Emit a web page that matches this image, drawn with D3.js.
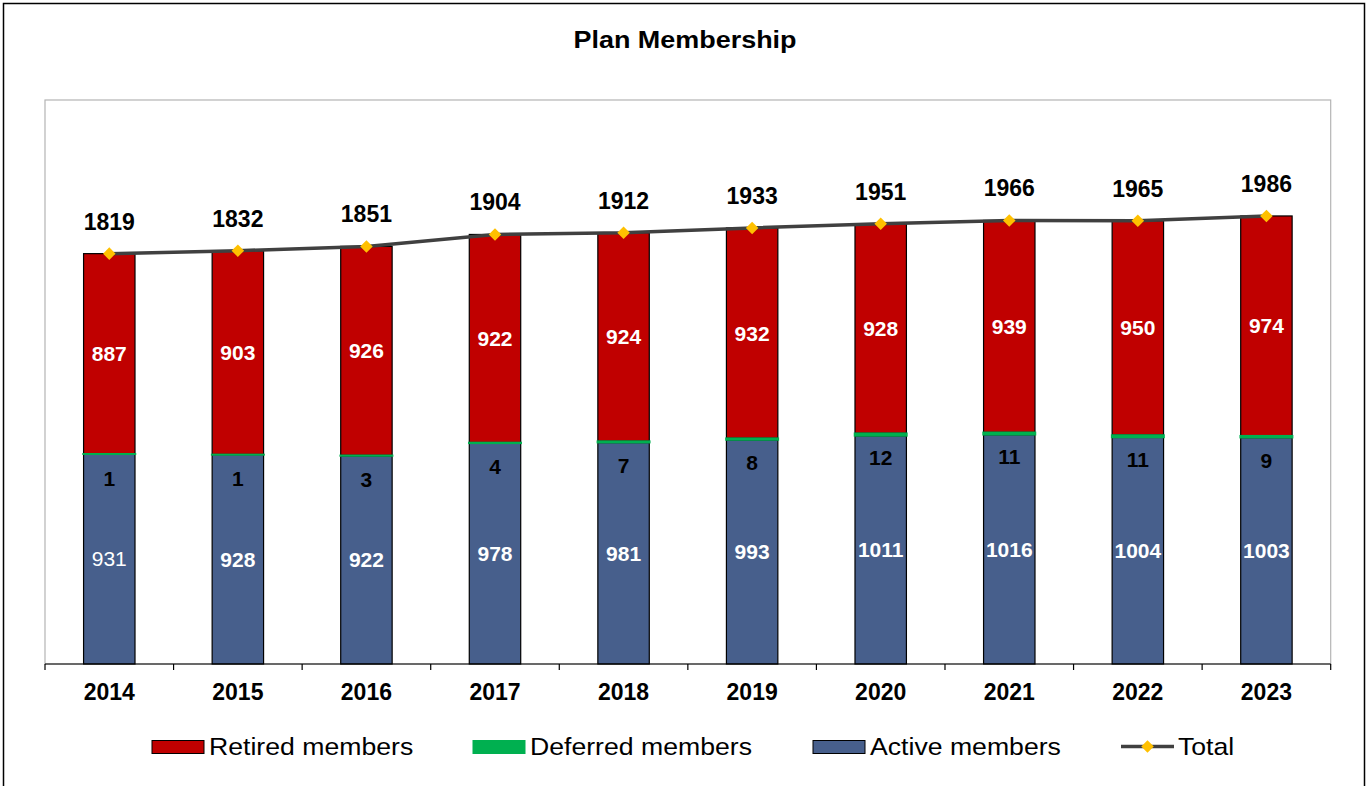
<!DOCTYPE html>
<html>
<head>
<meta charset="utf-8">
<script src="https://cdn.jsdelivr.net/npm/d3@7/dist/d3.min.js"></script>
<style>
  html, body { margin: 0; padding: 0; background: #fff; }
  svg { display: block; }
  text { font-family: "Liberation Sans", Arial, sans-serif; }
</style>
</head>
<body>
<svg id="chart" width="1367" height="786"></svg>
<script>
// Plan membership by year
const years    = ["2014","2015","2016","2017","2018","2019","2020","2021","2022","2023"];
const active   = [931, 928, 922, 978, 981, 993, 1011, 1016, 1004, 1003];
const deferred = [1, 1, 3, 4, 7, 8, 12, 11, 11, 9];
const retired  = [887, 903, 926, 922, 924, 932, 928, 939, 950, 974];
const totals   = [1819, 1832, 1851, 1904, 1912, 1933, 1951, 1966, 1965, 1986];
const yDomainMax = 2500;

const colors = { active: "#475f8c", deferred: "#00b050", retired: "#c00000", line: "#404040", marker: "#ffc000" };

const svg = d3.select("#chart");
const plot = { left: 45, top: 100, right: 1330.7, bottom: 664 };

// Outer chart frame
svg.append("rect").attr("x", 3.5).attr("y", 3.5).attr("width", 1361).attr("height", 800)
  .attr("fill", "#fff").attr("stroke", "#000").attr("stroke-width", 1.5);

// Plot area frame
svg.append("rect").attr("x", plot.left).attr("y", plot.top)
  .attr("width", plot.right - plot.left).attr("height", plot.bottom - plot.top)
  .attr("fill", "#fff").attr("stroke", "#b4b4b4").attr("stroke-width", 1.2);

// Title (slightly wide lettering)
svg.append("text").attr("transform", "translate(685,48) scale(1.1,1)").attr("text-anchor", "middle")
  .attr("font-size", 24.5).attr("font-weight", "bold").attr("fill", "#000")
  .text("Plan Membership");

const x = d3.scaleBand().domain(years).range([plot.left, plot.right])
  .paddingInner(0.6).paddingOuter(0.3);
const y = d3.scaleLinear().domain([0, yDomainMax]).range([plot.bottom, plot.top]);

const rows = years.map((yr, i) => ({
  year: yr, active: active[i], deferred: deferred[i], retired: retired[i], total: totals[i]
}));
const stack = d3.stack().keys(["active", "deferred", "retired"])(rows);

const g = svg.append("g");

// Active and retired segments
["active", "retired"].forEach(key => {
  const layer = stack.find(s => s.key === key);
  g.append("g").selectAll("rect").data(layer).join("rect")
    .attr("x", d => x(d.data.year))
    .attr("y", d => y(d[1]))
    .attr("width", x.bandwidth())
    .attr("height", d => y(d[0]) - y(d[1]))
    .attr("fill", colors[key])
    .attr("stroke", "#000").attr("stroke-width", 1.2);
});

// Deferred segments (thin band between active and retired)
const defLayer = stack.find(s => s.key === "deferred");
g.append("g").selectAll("rect").data(defLayer).join("rect")
  .attr("x", d => x(d.data.year) - 0.5)
  .attr("y", d => y(d[1]))
  .attr("width", x.bandwidth() + 1)
  .attr("height", d => Math.max(0.5, y(d[0]) - y(d[1])))
  .attr("fill", colors.deferred)
  .attr("stroke", colors.deferred).attr("stroke-width", 1.5);

// Axis line and tick marks at category boundaries
svg.append("line").attr("x1", plot.left).attr("x2", plot.right)
  .attr("y1", plot.bottom).attr("y2", plot.bottom)
  .attr("stroke", "#000").attr("stroke-width", 1.2);
const boundaries = d3.range(years.length + 1).map(i => plot.left + i * x.step());
svg.append("g").selectAll("line").data(boundaries).join("line")
  .attr("x1", d => d).attr("x2", d => d)
  .attr("y1", plot.bottom).attr("y2", plot.bottom + 6)
  .attr("stroke", "#000").attr("stroke-width", 1.2);

// Category labels
svg.append("g").selectAll("text").data(years).join("text")
  .attr("x", d => x(d) + x.bandwidth() / 2)
  .attr("y", 700)
  .attr("text-anchor", "middle")
  .attr("font-size", 23).attr("font-weight", "bold").attr("fill", "#000")
  .text(d => d);

// Total line with diamond markers
const cx = d => x(d.year) + x.bandwidth() / 2;
svg.append("path").datum(rows)
  .attr("d", d3.line().x(cx).y(d => y(d.total)))
  .attr("fill", "none").attr("stroke", colors.line).attr("stroke-width", 3.5);
svg.append("g").selectAll("path").data(rows).join("path")
  .attr("transform", d => `translate(${cx(d)},${y(d.total)})`)
  .attr("d", d3.symbol().type(d3.symbolDiamond2).size(100))
  .attr("fill", colors.marker);

// Value labels
const labels = svg.append("g").attr("text-anchor", "middle").attr("font-weight", "bold");
labels.selectAll("text.total").data(rows).join("text").attr("class", "total")
  .attr("x", cx).attr("y", d => y(d.total) - 24)
  .attr("font-size", 23).attr("fill", "#000")
  .text(d => d.total);
labels.selectAll("text.retired").data(rows).join("text").attr("class", "retired")
  .attr("x", cx).attr("y", d => (y(d.active + d.deferred) + y(d.total)) / 2 + 7.5)
  .attr("font-size", 21).attr("fill", "#fff")
  .text(d => d.retired);
labels.selectAll("text.deferred").data(rows).join("text").attr("class", "deferred")
  .attr("x", cx).attr("y", d => y(d.active + d.deferred) + 32)
  .attr("font-size", 21).attr("fill", "#000")
  .text(d => d.deferred);
labels.selectAll("text.active").data(rows).join("text").attr("class", "active")
  .attr("x", cx).attr("y", d => (y(0) + y(d.active)) / 2 + 7.5)
  .attr("font-size", 21).attr("fill", "#fff")
  .attr("font-weight", (d, i) => i === 0 ? "normal" : "bold")
  .text(d => d.active);

// Legend
const legend = svg.append("g");
const legendItems = [
  { label: "Retired members", type: "box", color: colors.retired, x: 152, stroke: "#000" },
  { label: "Deferred members", type: "box", color: colors.deferred, x: 473, stroke: colors.deferred },
  { label: "Active members", type: "box", color: colors.active, x: 813, stroke: "#000" },
  { label: "Total", type: "line", color: colors.line, x: 1121 }
];
legendItems.forEach(it => {
  if (it.type === "box") {
    legend.append("rect").attr("x", it.x).attr("y", 740.5).attr("width", 52).attr("height", 13)
      .attr("fill", it.color).attr("stroke", it.stroke).attr("stroke-width", 1);
  } else {
    legend.append("line").attr("x1", it.x).attr("x2", it.x + 53).attr("y1", 746.5).attr("y2", 746.5)
      .attr("stroke", it.color).attr("stroke-width", 3.5);
    legend.append("path").attr("transform", `translate(${it.x + 26.5},746.5)`)
      .attr("d", d3.symbol().type(d3.symbolDiamond2).size(100)).attr("fill", colors.marker);
  }
  legend.append("text").attr("transform", `translate(${it.x + 57},755) scale(1.11,1)`)
    .attr("font-size", 24).attr("fill", "#000").text(it.label);
});
</script>
</body>
</html>
